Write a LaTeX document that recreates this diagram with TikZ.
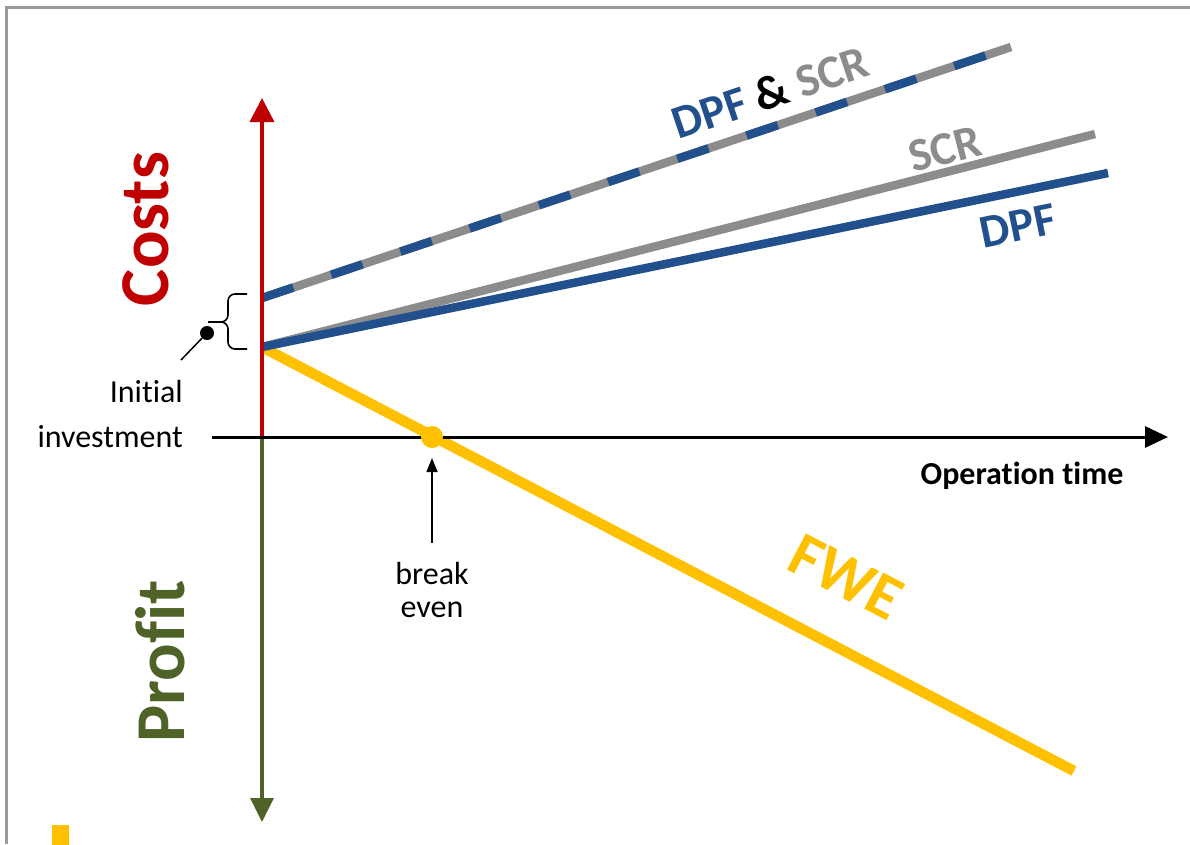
\documentclass[tikz,border=0pt]{standalone}
\usepackage{fontspec}
\setmainfont{Carlito}[Ligatures=NoCommon]
\usetikzlibrary{arrows.meta}
\definecolor{dpfblue}{HTML}{22508C}
\definecolor{scrgrey}{HTML}{8C8C8C}
\definecolor{costred}{HTML}{C00000}
\definecolor{profitgreen}{HTML}{4F6228}
\definecolor{fweyellow}{HTML}{FFC000}
\definecolor{framegrey}{HTML}{9A9A9A}
\tikzset{
  costline/.style={line width=8.5pt, line cap=butt},
  axisline/.style={line width=3.5pt},
  biglabel/.style={font=\fontsize{70}{80}\selectfont\bfseries, inner sep=0pt},
  linelabel/.style={font=\fontsize{47}{54}\selectfont\bfseries, inner sep=0pt},
  plainlabel/.style={font=\fontsize{32}{38}\selectfont, inner sep=0pt},
}
\begin{document}
\begin{tikzpicture}[x=1pt,y=-1pt]
\useasboundingbox (0,0) rectangle (1190,844);
% frame
\draw[framegrey, line width=2.2pt] (6.5,844) -- (6.5,7.5) -- (1190,7.5);
\fill[fweyellow] (52,825) rectangle (69,845);

% coordinates
\coordinate (O) at (262,437);
\coordinate (top) at (262,98);
\coordinate (bot) at (262,822);
\coordinate (xl) at (212,437);
\coordinate (xr) at (1168,437);
\coordinate (S) at (262,347);
\coordinate (Sd) at (262,298);
\coordinate (Ed) at (1011,47);
\coordinate (Escr) at (1095,134);
\coordinate (Edpf) at (1108,173);
\coordinate (Efwe) at (1074,771);

% cost/profit lines
\draw[fweyellow, line width=10.5pt] (S) -- (Efwe);
\draw[scrgrey, costline] (Sd) -- (Ed);
\draw[dpfblue, costline, dash pattern=on 33pt off 40pt] (Sd) -- (Ed);
\draw[scrgrey, costline] (S) -- (Escr);
\draw[dpfblue, costline] (S) -- (Edpf);

% axes
\draw[costred, axisline, -{Triangle[length=24pt,width=24pt]}] (O) -- (top);
\draw[profitgreen, axisline, -{Triangle[length=24pt,width=23pt]}] (O) -- (bot);
\draw[black, line width=3pt, -{Triangle[length=23pt,width=21pt]}] (xl) -- (xr);

% break even
\node[circle, fill=fweyellow, inner sep=0pt, minimum size=22pt] (be) at (432,437) {};
\coordinate (beA) at (432,543);
\draw[line width=1.5pt, -{Triangle[length=14pt,width=11pt]}] (beA) -- (432,458);
\node[plainlabel, anchor=base] (brk) at (432,584) {break};
\node[plainlabel, anchor=base] (evn) at (432,617) {even};

% initial investment brace
\draw[line width=1.6pt, rounded corners=7pt] (247,294) -- (228,294) -- (228,322) -- (208,322);
\draw[line width=1.6pt, rounded corners=7pt] (247,349) -- (228,349) -- (228,322) -- (208,322);
\node[circle, fill=black, inner sep=0pt, minimum size=14pt] (dot) at (207,333) {};
\coordinate (dotend) at (181,360);
\draw[line width=1.5pt] (dot) -- (dotend);
\node[plainlabel, anchor=base east] (ini) at (183,402) {Initial};
\node[plainlabel, anchor=base east] (inv) at (183,447) {investment};

% labels
\node[biglabel, text=costred, rotate=90] (costs) at (146,229) {Costs};
\node[biglabel, text=profitgreen, rotate=90] (profit) at (160,661) {Profit};
\node[plainlabel, font=\fontsize{32}{38}\selectfont\bfseries, anchor=base] (optime) at (1022,484) {Operation time};
\node[linelabel, rotate=18.6] (both) at (770,92) {\textcolor{dpfblue}{DPF} \textcolor{black}{\&} \textcolor{scrgrey}{SCR}};
\node[linelabel, text=scrgrey, rotate=14.4] (scr) at (945,149) {SCR};
\node[linelabel, text=dpfblue, rotate=11.6] (dpf) at (1018,226) {DPF};
\node[biglabel, font=\fontsize{63}{70}\selectfont\bfseries, text=fweyellow, rotate=-27.6] (fwe) at (846,577) {FWE};
\end{tikzpicture}
\end{document}
